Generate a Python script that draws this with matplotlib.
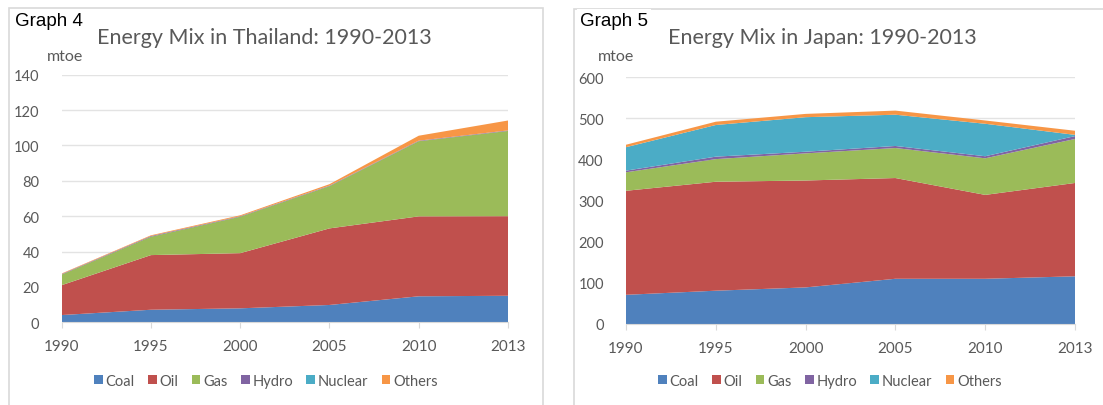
import matplotlib
matplotlib.use("Agg")
import matplotlib.pyplot as plt
from matplotlib.patches import Patch, Rectangle

years = ["1990", "1995", "2000", "2005", "2010", "2013"]
series_names = ["Coal", "Oil", "Gas", "Hydro", "Nuclear", "Others"]
colors = ["#4f81bd", "#c0504d", "#9bbb59", "#8064a2", "#4bacc6", "#f79646"]

# Thailand (mtoe), per-source values
th_coal = [4.1, 7.1, 7.9, 9.8, 14.7, 15.0]
th_oil = [16.9, 30.9, 31.2, 43.3, 45.2, 45.0]
th_gas = [6.0, 10.4, 20.6, 23.9, 42.5, 48.2]
th_hydro = [0.3, 0.4, 0.3, 0.3, 0.3, 0.3]
th_nuclear = [0, 0, 0, 0, 0, 0]
th_others = [0.3, 0.4, 0.5, 0.8, 2.8, 5.6]

# Japan (mtoe), per-source values
jp_coal = [71, 81, 89, 110, 110, 116]
jp_oil = [253, 265, 260, 245, 204, 227]
jp_gas = [45, 55, 66, 73, 89, 107]
jp_hydro = [4, 6, 4, 5, 5, 7]
jp_nuclear = [57, 77, 84, 76, 79, 3]
jp_others = [6, 8, 8, 10, 8, 10]

GRAY = "#595959"
FONT = ["Lato", "DejaVu Sans"]

fig = plt.figure(figsize=(11.03, 4.06), dpi=100)
W, H = 1103, 406

def px_axes(x0, x1, ytop, ybot):
    return [x0 / W, 1 - ybot / H, (x1 - x0) / W, (ybot - ytop) / H]

# panel borders
fig.add_artist(Rectangle((9 / W, -0.05), (543 - 9) / W, 1.05 - 9 / H,
                         transform=fig.transFigure, fill=False,
                         edgecolor="#d9d9d9", linewidth=1.2))
fig.add_artist(Rectangle((574 / W, -0.05), 0.6, 1.05 - 10 / H,
                         transform=fig.transFigure, fill=False,
                         edgecolor="#d9d9d9", linewidth=1.2))

def draw(rect, data, ymax, ystep, title, title_x, graph_label, glabel_x, mtoe_x, legend_x):
    ax = fig.add_axes(rect)
    x = list(range(len(years)))
    ax.stackplot(x, *data, colors=colors, linewidth=0)
    ax.set_xlim(0, len(years) - 1)
    ax.set_ylim(0, ymax)
    ax.set_yticks(list(range(0, ymax + 1, ystep)))
    ax.set_xticks(x)
    ax.set_xticklabels(years)
    ax.grid(axis="y", color="#e3e3e3", linewidth=1)
    ax.set_axisbelow(True)
    for s in ["top", "right", "left"]:
        ax.spines[s].set_visible(False)
    ax.spines["bottom"].set_color("#d9d9d9")
    ax.tick_params(axis="y", length=0, pad=16, labelsize=10.5, labelcolor=GRAY)
    ax.tick_params(axis="x", length=4, color="#d9d9d9", pad=8, labelsize=11, labelcolor=GRAY)
    for lab in ax.get_xticklabels() + ax.get_yticklabels():
        lab.set_family(FONT)
    fig.text(title_x / W, 1 - 38 / H, title, ha="center", va="center",
             fontsize=15.5, color=GRAY, family=FONT)
    fig.text(mtoe_x / W, 1 - 57 / H, "mtoe", ha="center", va="center",
             fontsize=11.5, color=GRAY, family=FONT)
    fig.text(glabel_x / W, 1 - 21 / H, graph_label, ha="left", va="center",
             fontsize=13.5, color="black", family=["Liberation Sans", "DejaVu Sans"],
             bbox=dict(facecolor="white", edgecolor="none", pad=2))
    handles = [Patch(facecolor=c, edgecolor="none", label=n) for c, n in zip(colors, series_names)]
    leg = fig.legend(handles=handles, loc="center", bbox_to_anchor=(legend_x / W, 1 - 382 / H),
                     ncol=6, frameon=False, handlelength=0.6, handleheight=0.6,
                     handletextpad=0.2, columnspacing=0.9, prop={"family": FONT, "size": 10.5})
    for t in leg.get_texts():
        t.set_color(GRAY)
    return ax

draw(px_axes(61.7, 508, 75.7, 323.3),
     [th_coal, th_oil, th_gas, th_hydro, th_nuclear, th_others],
     140, 20, "Energy Mix in Thailand: 1990-2013", 264, "Graph 4", 15, 65, 266)
draw(px_axes(626, 1075, 78.3, 325),
     [jp_coal, jp_oil, jp_gas, jp_hydro, jp_nuclear, jp_others],
     600, 100, "Energy Mix in Japan: 1990-2013", 822, "Graph 5", 580, 616, 830)

fig.savefig("out.png", dpi=100)
